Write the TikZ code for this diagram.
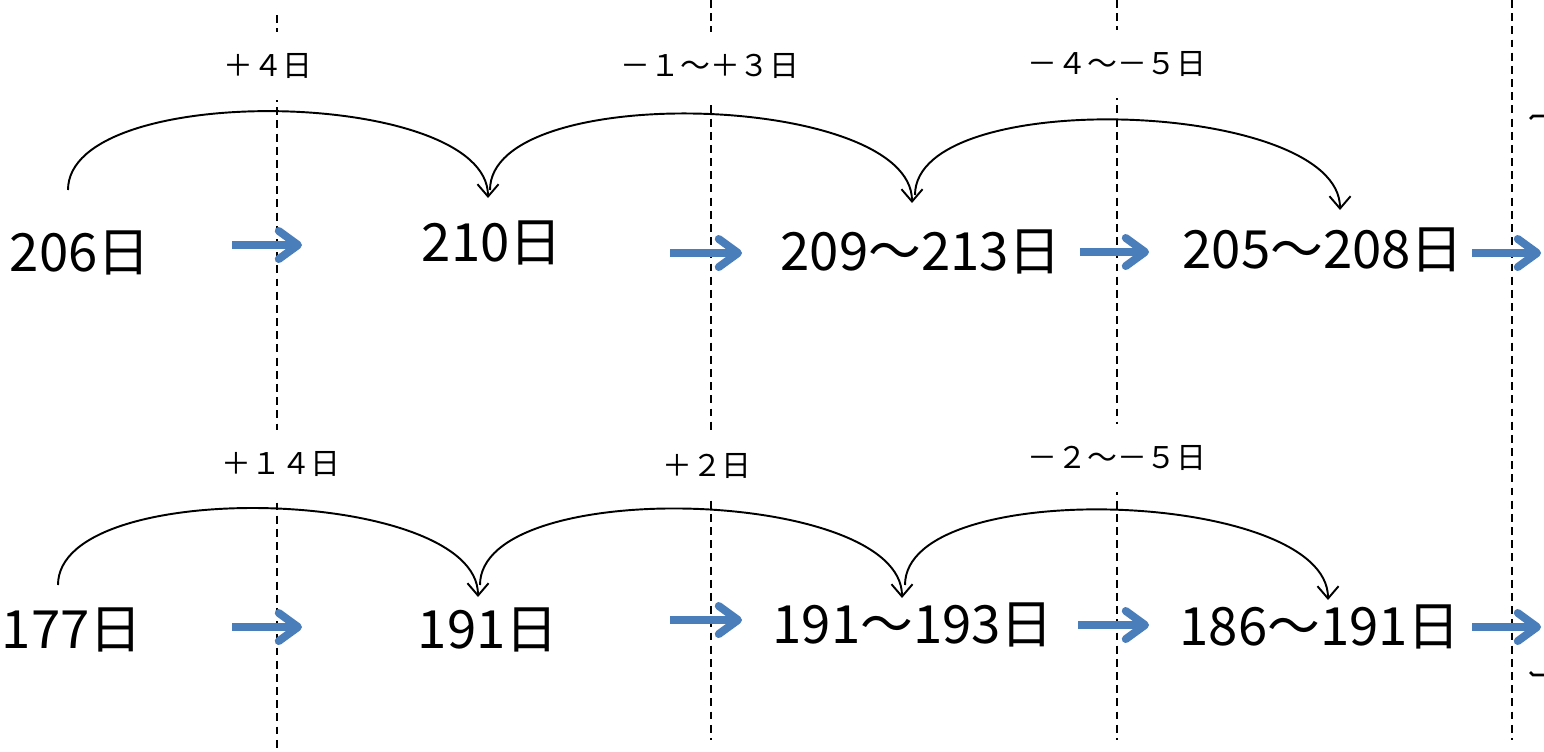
\documentclass[tikz,border=0pt]{standalone}
\usepackage{fontspec}
\setmainfont{Noto Sans CJK JP}
\usetikzlibrary{arrows.meta,positioning}

\definecolor{stepblue}{RGB}{74,126,187}

\tikzset{
    days/.style={font=\fontsize{30}{33}\selectfont, inner sep=1pt},
    diff/.style={font=\fontsize{17}{19}\selectfont, fill=white, inner sep=1pt, minimum height=1.35cm},
    guide/.style={dash pattern=on 4.5pt off 3pt, line width=0.8pt},
    jump/.style={line width=1.1pt, -{Straight Barb[length=7pt, width=12pt]}},
    next/.style={stepblue, line width=4.5pt, -{Straight Barb[round, length=11pt, width=16pt]}}
}

\begin{document}
\begin{tikzpicture}[x=0.02cm, y=-0.02cm]
    \useasboundingbox (0,0) rectangle (1544,751);

    % Dashed guides
    \draw[guide] (277,15) -- (277,751);
    \foreach \x in {711, 1117, 1512} {
        \draw[guide] (\x,0) -- (\x,740);
    }

    % Differences between steps
    \node[diff] (d1) at (268,66) {＋４日};
    \node[diff] (d2) at (710,66) {－１～＋３日};
    \node[diff] (d3) at (1117,64) {－４～－５日};
    \node[diff] (e1) at (281,464) {＋１４日};
    \node[diff] (e2) at (707,466) {＋２日};
    \node[diff] (e3) at (1117,458) {－２～－５日};

    % Day counts
    \node[days] (a1) at (80,253) {206日};
    \node[days] (a2) at (492,243) {210日};
    \node[days] (a3) at (921,252) {209～213日};
    \node[days] (a4) at (1323,250) {205～208日};
    \node[days] (b1) at (72,630) {177日};
    \node[days] (b2) at (488,630) {191日};
    \node[days] (b3) at (913,625) {191～193日};
    \node[days] (b4) at (1320,627) {186～191日};

    % Arcs from one step to the next
    \draw[jump] ([shift={(-12,-63)}]a1.center) .. controls +(0,-110) and +(0,-110) .. ([shift={(-4,-45)}]a2.center);
    \draw[jump] ([shift={(-2,-53)}]a2.center) .. controls +(0,-110) and +(0,-110) .. ([shift={(-9,-49)}]a3.center);
    \draw[jump] ([shift={(-6,-57)}]a3.center) .. controls +(0,-110) and +(0,-110) .. ([shift={(17,-40)}]a4.center);
    \draw[jump] ([shift={(-14,-45)}]b1.center) .. controls +(0,-110) and +(0,-110) .. ([shift={(-10,-33)}]b2.center);
    \draw[jump] ([shift={(-8,-45)}]b2.center) .. controls +(0,-110) and +(0,-110) .. ([shift={(-11,-27)}]b3.center);
    \draw[jump] ([shift={(-8,-40)}]b3.center) .. controls +(0,-110) and +(0,-110) .. ([shift={(8,-27)}]b4.center);

    % Blue step arrows
    \coordinate (p1) at (232,245);  \coordinate (q1) at (302,245);
    \coordinate (p2) at (670,253);  \coordinate (q2) at (742,253);
    \coordinate (p3) at (1080,252); \coordinate (q3) at (1149,252);
    \coordinate (p4) at (1472,253); \coordinate (q4) at (1541,253);
    \coordinate (r1) at (232,627);  \coordinate (s1) at (302,627);
    \coordinate (r2) at (670,620);  \coordinate (s2) at (742,620);
    \coordinate (r3) at (1078,625); \coordinate (s3) at (1149,625);
    \coordinate (r4) at (1472,627); \coordinate (s4) at (1541,627);
    \foreach \i in {1,...,4} {
        \draw[next] (p\i) -- (q\i);
        \draw[next] (r\i) -- (s\i);
    }

    % Brace ends at the right edge
    \draw[line width=1.5pt] (1530,119) -- (1533,116) -- (1544,116);
    \draw[line width=1.5pt] (1530,672) -- (1533,675) -- (1544,675);
\end{tikzpicture}
\end{document}
